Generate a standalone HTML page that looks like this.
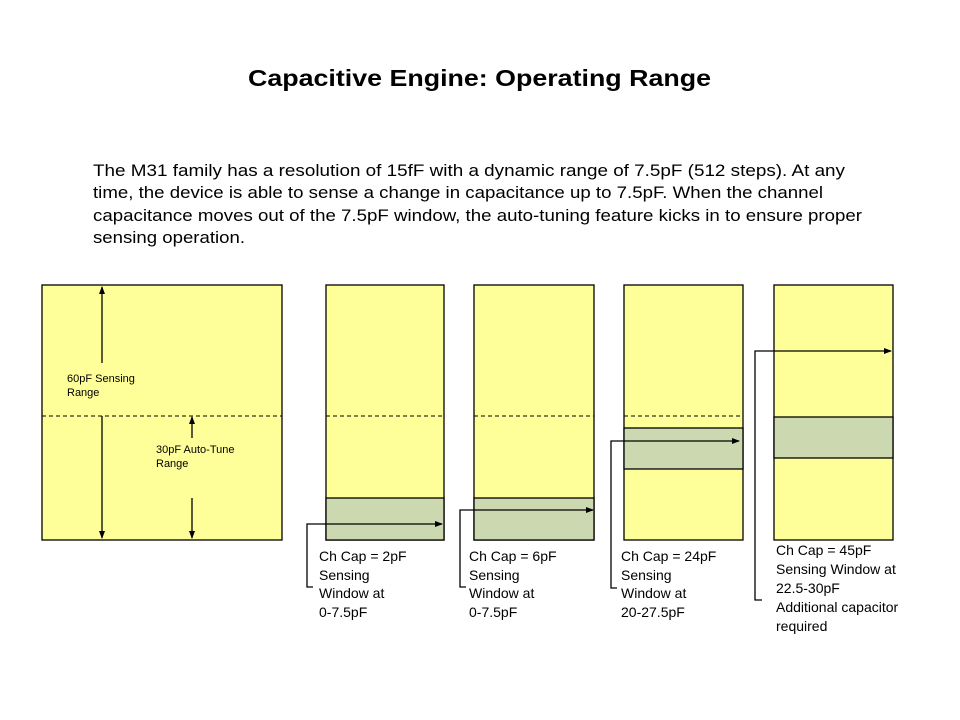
<!DOCTYPE html>
<html><head><meta charset="utf-8"><style>body{margin:0;background:#fff}svg{display:block}</style></head><body>
<svg width="960" height="720" xmlns="http://www.w3.org/2000/svg" font-family="Liberation Sans, Arial, sans-serif">
<defs><marker id="a" markerWidth="8" markerHeight="8" refX="7" refY="4" orient="auto" markerUnits="userSpaceOnUse"><path d="M0,1 L8,4 L0,7 z" fill="#000"/></marker></defs>
<rect width="960" height="720" fill="#fff"/>
<text x="248" y="86" font-size="23" font-weight="bold" textLength="463" lengthAdjust="spacingAndGlyphs">Capacitive Engine: Operating Range</text>
<g font-size="16.5">
<text x="93" y="176" textLength="752" lengthAdjust="spacingAndGlyphs">The M31 family has a resolution of 15fF with a dynamic range of 7.5pF (512 steps). At any</text>
<text x="93" y="198" textLength="730" lengthAdjust="spacingAndGlyphs">time, the device is able to sense a change in capacitance up to 7.5pF. When the channel</text>
<text x="93" y="221" textLength="769" lengthAdjust="spacingAndGlyphs">capacitance moves out of the 7.5pF window, the auto-tuning feature kicks in to ensure proper</text>
<text x="93" y="243" textLength="152" lengthAdjust="spacingAndGlyphs">sensing operation.</text>
</g>
<g stroke="#000" stroke-width="1.3">
<rect x="42" y="285" width="240" height="255" fill="#ffff99"/>
<line x1="42" y1="416" x2="282" y2="416" stroke-dasharray="4,3" stroke-width="1"/>
<line x1="102" y1="363" x2="102" y2="287" marker-end="url(#a)"/>
<line x1="102" y1="416" x2="102" y2="538" marker-end="url(#a)"/>
<line x1="192" y1="438" x2="192" y2="417" marker-end="url(#a)"/>
<line x1="192" y1="498" x2="192" y2="538" marker-end="url(#a)"/>

<rect x="326" y="285" width="118" height="255" fill="#ffff99"/>
<rect x="326" y="498" width="118" height="42" fill="#ccd9b0"/>
<line x1="326" y1="416" x2="444" y2="416" stroke-dasharray="4,3" stroke-width="1"/>
<polyline points="313,587 307,587 307,524 442,524" fill="none" marker-end="url(#a)"/>

<rect x="474" y="285" width="120" height="255" fill="#ffff99"/>
<rect x="474" y="498" width="120" height="42" fill="#ccd9b0"/>
<line x1="474" y1="416" x2="594" y2="416" stroke-dasharray="4,3" stroke-width="1"/>
<polyline points="466,587 460,587 460,510 593,510" fill="none" marker-end="url(#a)"/>

<rect x="624" y="285" width="119" height="255" fill="#ffff99"/>
<line x1="624" y1="416" x2="743" y2="416" stroke-dasharray="4,3" stroke-width="1"/>
<rect x="624" y="428" width="119" height="41" fill="#ccd9b0"/>
<polyline points="617,588 611,588 611,441 739,441" fill="none" marker-end="url(#a)"/>

<rect x="774" y="285" width="119" height="255" fill="#ffff99"/>
<rect x="774" y="417" width="119" height="41" fill="#ccd9b0"/>
<polyline points="762,600 755,600 755,351 891,351" fill="none" marker-end="url(#a)"/>
</g>
<g font-size="11">
<text x="67" y="382">60pF Sensing</text><text x="67" y="396">Range</text>
<text x="156" y="453">30pF Auto-Tune</text><text x="156" y="467">Range</text>
</g>
<g font-size="14">
<text x="319" y="561">Ch Cap = 2pF</text><text x="319" y="580">Sensing</text><text x="319" y="598">Window at</text><text x="319" y="617">0-7.5pF</text>
<text x="469" y="561">Ch Cap = 6pF</text><text x="469" y="580">Sensing</text><text x="469" y="598">Window at</text><text x="469" y="617">0-7.5pF</text>
<text x="621" y="561">Ch Cap = 24pF</text><text x="621" y="580">Sensing</text><text x="621" y="598">Window at</text><text x="621" y="617">20-27.5pF</text>
<text x="776" y="555">Ch Cap = 45pF</text><text x="776" y="574">Sensing Window at</text><text x="776" y="593">22.5-30pF</text><text x="776" y="612">Additional capacitor</text><text x="776" y="631">required</text>
</g>
</svg>
</body></html>
